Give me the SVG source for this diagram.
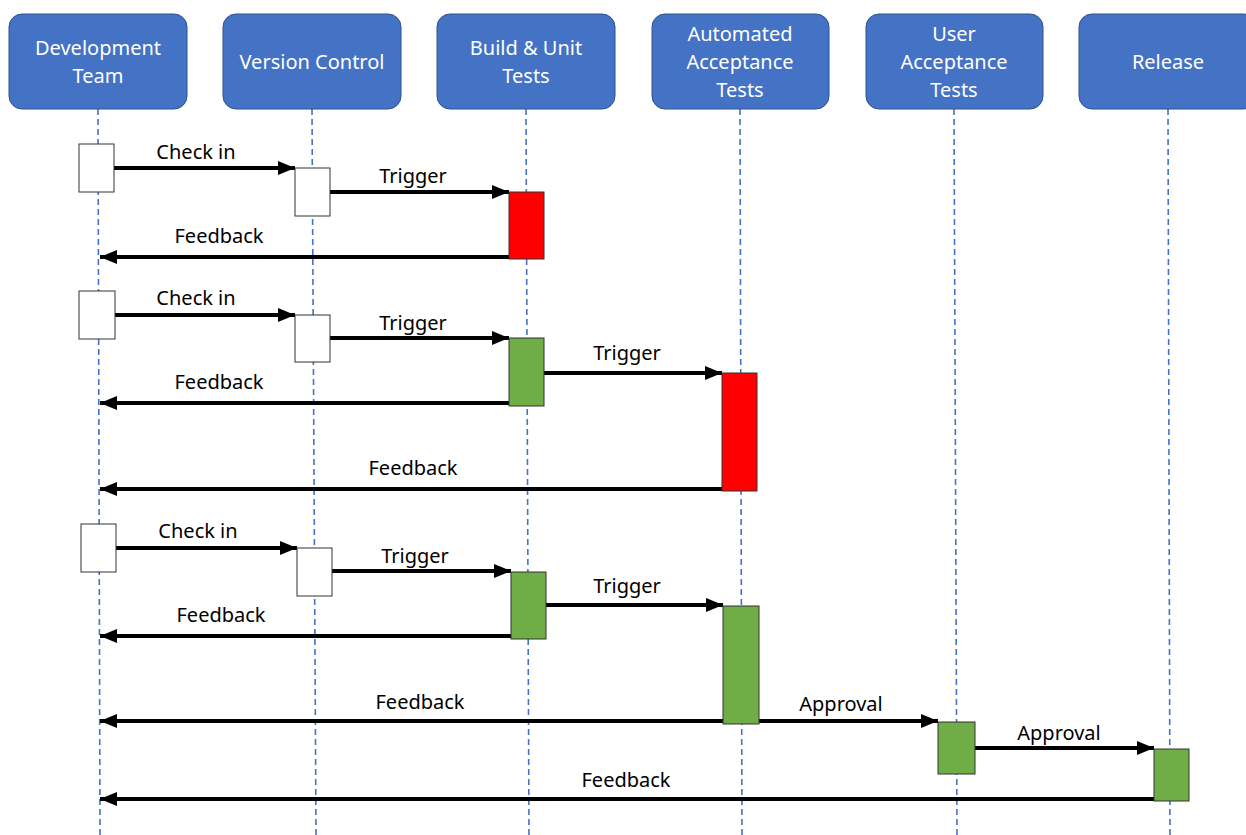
<svg xmlns="http://www.w3.org/2000/svg" width="1246" height="835" viewBox="0 0 1246 835">
<style>
.hdr{fill:#4472C4;stroke:#2F528F;stroke-width:1}
.ht{font-family:"Noto Sans","Open Sans",sans-serif;font-size:20px;fill:#fff;text-anchor:middle}
.life{stroke:#4472C4;stroke-width:1.6;stroke-dasharray:6 4;fill:none}
.msg{stroke:#000;stroke-width:4;fill:none;marker-end:url(#ah)}
.lbl{font-family:"Noto Sans","Open Sans",sans-serif;font-size:20px;fill:#000;text-anchor:middle}
.w{fill:#fff;stroke:#333;stroke-width:1}
.r{fill:#FF0000;stroke:#333;stroke-width:1}
.g{fill:#70AD47;stroke:#333;stroke-width:1}
</style>
<defs>
<marker id="ah" markerUnits="userSpaceOnUse" markerWidth="18" markerHeight="14" refX="17" refY="7" orient="auto">
<path d="M0,0 L17,7 L0,14 z" fill="#000"/>
</marker>
</defs>
<rect width="1246" height="835" fill="#fff"/>
<g id="dev-team">
<line class="life" x1="98" y1="109" x2="100" y2="835"/>
<rect class="hdr" x="9" y="14" width="178" height="95" rx="13"/>
<text class="ht" x="98" y="55">Development</text>
<text class="ht" x="98" y="83">Team</text>
</g>
<g id="version-control">
<line class="life" x1="312" y1="109" x2="316" y2="835"/>
<rect class="hdr" x="223" y="14" width="178" height="95" rx="13"/>
<text class="ht" x="312" y="69">Version Control</text>
</g>
<g id="build-unit-tests">
<line class="life" x1="526" y1="109" x2="529" y2="835"/>
<rect class="hdr" x="437" y="14" width="178" height="95" rx="13"/>
<text class="ht" x="526" y="55">Build &amp; Unit</text>
<text class="ht" x="526" y="83">Tests</text>
</g>
<g id="automated-acceptance-tests">
<line class="life" x1="740" y1="109" x2="742" y2="835"/>
<rect class="hdr" x="652" y="14" width="177" height="95" rx="13"/>
<text class="ht" x="740" y="41">Automated</text>
<text class="ht" x="740" y="69">Acceptance</text>
<text class="ht" x="740" y="97">Tests</text>
</g>
<g id="user-acceptance-tests">
<line class="life" x1="954" y1="109" x2="957" y2="835"/>
<rect class="hdr" x="866" y="14" width="177" height="95" rx="13"/>
<text class="ht" x="954" y="41">User</text>
<text class="ht" x="954" y="69">Acceptance</text>
<text class="ht" x="954" y="97">Tests</text>
</g>
<g id="release">
<line class="life" x1="1168" y1="109" x2="1170" y2="835"/>
<rect class="hdr" x="1079" y="14" width="178" height="95" rx="13"/>
<text class="ht" x="1168" y="69">Release</text>
</g>
<g id="connectors">
<line class="msg" x1="114" y1="168" x2="295" y2="168"/>
<line class="msg" x1="330" y1="192" x2="509" y2="192"/>
<line class="msg" x1="509" y1="257" x2="100" y2="257"/>
<line class="msg" x1="115" y1="315" x2="295" y2="315"/>
<line class="msg" x1="330" y1="338" x2="509" y2="338"/>
<line class="msg" x1="544" y1="373" x2="722" y2="373"/>
<line class="msg" x1="509" y1="403" x2="100" y2="403"/>
<line class="msg" x1="722" y1="489" x2="100" y2="489"/>
<line class="msg" x1="116" y1="548" x2="297" y2="548"/>
<line class="msg" x1="332" y1="571" x2="511" y2="571"/>
<line class="msg" x1="546" y1="605" x2="723" y2="605"/>
<line class="msg" x1="511" y1="636" x2="100" y2="636"/>
<line class="msg" x1="723" y1="721" x2="100" y2="721"/>
<line class="msg" x1="759" y1="721" x2="938" y2="721"/>
<line class="msg" x1="975" y1="748" x2="1154" y2="748"/>
<line class="msg" x1="1154" y1="799" x2="100" y2="799"/>
</g>
<g id="labels">
<text class="lbl" x="196" y="159">Check in</text>
<text class="lbl" x="413" y="183">Trigger</text>
<text class="lbl" x="219" y="243">Feedback</text>
<text class="lbl" x="196" y="305">Check in</text>
<text class="lbl" x="413" y="330">Trigger</text>
<text class="lbl" x="627" y="360">Trigger</text>
<text class="lbl" x="219" y="389">Feedback</text>
<text class="lbl" x="413" y="475">Feedback</text>
<text class="lbl" x="198" y="538">Check in</text>
<text class="lbl" x="415" y="563">Trigger</text>
<text class="lbl" x="627" y="593">Trigger</text>
<text class="lbl" x="221" y="622">Feedback</text>
<text class="lbl" x="420" y="709">Feedback</text>
<text class="lbl" x="841" y="711">Approval</text>
<text class="lbl" x="1059" y="740">Approval</text>
<text class="lbl" x="626" y="787">Feedback</text>
</g>
<g id="activations">
<rect class="w" x="79" y="144" width="35" height="48"/>
<rect class="w" x="295" y="168" width="35" height="48"/>
<rect class="r" x="509" y="192" width="35" height="67"/>
<rect class="w" x="79" y="291" width="36" height="48"/>
<rect class="w" x="295" y="315" width="35" height="47"/>
<rect class="g" x="509" y="338" width="35" height="68"/>
<rect class="r" x="722" y="373" width="35" height="118"/>
<rect class="w" x="81" y="524" width="35" height="48"/>
<rect class="w" x="297" y="548" width="35" height="48"/>
<rect class="g" x="511" y="572" width="35" height="67"/>
<rect class="g" x="723" y="606" width="36" height="118"/>
<rect class="g" x="938" y="722" width="37" height="52"/>
<rect class="g" x="1154" y="749" width="35" height="52"/>
</g>
</svg>
